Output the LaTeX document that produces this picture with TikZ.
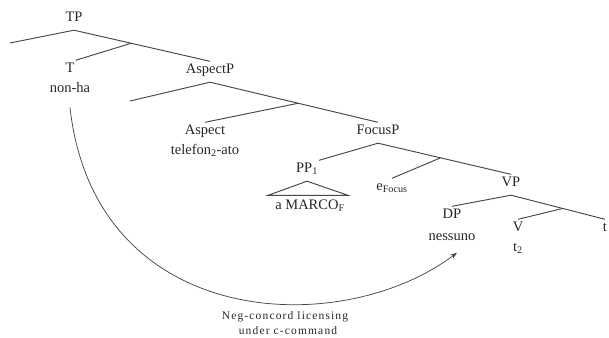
\documentclass[tikz,border=0pt]{standalone}
\usepackage{fontspec}
\setmainfont{Liberation Serif}
\usetikzlibrary{calc,arrows.meta}
\begin{document}
\begin{tikzpicture}[x=1pt,y=-1pt,
  lab/.style={inner xsep=1pt,inner ysep=2pt,text height=10pt,text depth=3pt,
    font=\fontsize{14.5}{16}\selectfont,text=black!85},
  branch/.style={line width=0.95pt,draw=black!72},
  note/.style={inner sep=0pt,font=\fontsize{11.5}{13}\selectfont\addfontfeatures{LetterSpace=10},text=black!85}]
\useasboundingbox (0,0) rectangle (609,337);
% nodes
\node[lab] (TP) at (74,18) {TP};
\node[lab] (T) at (70,69) {T};
\node[lab] (nonha) at (70,89) {non-ha};
\node[lab] (AspectP) at (210,70) {AspectP};
\node[lab] (Aspect) at (205,131) {Aspect};
\node[lab] (telefon) at (205,151) {telefon\textsubscript{2}-ato};
\node[lab] (FocusP) at (378,131) {FocusP};
\node[lab] (PP) at (307,169) {PP\textsubscript{1}};
\node[lab] (aMARCO) at (310,206) {a MARCO\textsubscript{F}};
\node[lab] (eFocus) at (392,187) {e\textsubscript{Focus}};
\node[lab] (VP) at (511,183) {VP};
\node[lab] (DP) at (452,215) {DP};
\node[lab] (nessuno) at (452,237) {nessuno};
\node[lab] (V) at (518,228) {V};
\node[lab] (t2) at (518,248) {t\textsubscript{2}};
\node[lab] (t) at (605,228) {t};
\node[note] (lic1) at (285,317) {Neg-concord licensing};
\node[note] (lic2) at (288,331) {under c-command};
% free ends and branch points
\coordinate (TPspec) at (10,43);
\coordinate (APspec) at (130,101);
\coordinate (TPa) at ([yshift=-3.5pt]TP.south);
\coordinate (APa) at ([yshift=-3.5pt]AspectP.south);
\coordinate (FPa) at ([yshift=-3.5pt]FocusP.south);
\coordinate (VPa) at ([yshift=-3.5pt]VP.south);
\coordinate (PPa) at ([yshift=-3.5pt]PP.south);
\coordinate (b1) at ($(TPa)!0.42!(AspectP.north)$);
\coordinate (b2) at ($(APa)!0.525!(FocusP.north)$);
\coordinate (b3) at ($(FPa)!0.47!(VP.north)$);
\coordinate (b4) at ($(VPa)!0.55!(t.north)$);
% tree
\draw[branch] (TPspec) -- (TPa) -- (AspectP.north);
\draw[branch] (b1) -- (T.north east);
\draw[branch] (APspec) -- (APa) -- (FocusP.north);
\draw[branch] (b2) -- (Aspect.north);
\draw[branch] (PP.north east) -- (FPa) -- (VP.north);
\draw[branch] (b3) -- (eFocus.north);
\draw[branch] (DP.north) -- (VPa) -- (t.north);
\draw[branch] (b4) -- (V.north);
\draw[branch] ([xshift=-6pt,yshift=2pt]aMARCO.north west) -- (PPa) -- ([xshift=2pt,yshift=2pt]aMARCO.north east) -- cycle;
% licensing arrow
\draw[line width=0.75pt,draw=black!72,-{Stealth[length=7pt,width=5pt]}]
  ([yshift=-10pt]nonha.south) .. controls +(25,222) and +(-117,88) .. ([xshift=5pt,yshift=-7pt]nessuno.south);
\end{tikzpicture}
\end{document}
